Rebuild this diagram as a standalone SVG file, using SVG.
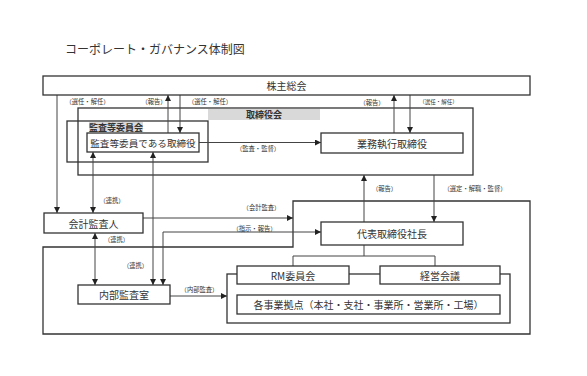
<svg xmlns="http://www.w3.org/2000/svg" width="587" height="376" viewBox="0 0 587 376">
<style>
text{font-family:"Noto Sans CJK JP","Noto Sans",sans-serif;fill:#333;text-anchor:middle;dominant-baseline:central}
.box{fill:#fff;stroke:#333;stroke-width:1.3}
.frame{fill:none;stroke:#333;stroke-width:1.3}
.t{font-size:10px}
.s{font-size:6.3px}
.b{font-size:9px;font-weight:bold}
.gray{fill:#d9d9d9}
.ln{fill:none;stroke:#444;stroke-width:1}
.a{marker-end:url(#ah)}
.aa{marker-end:url(#ah);marker-start:url(#ah)}
</style>
<defs>
<marker id="ah" markerUnits="userSpaceOnUse" markerWidth="7" markerHeight="6" refX="6" refY="3" orient="auto-start-reverse"><path d="M0,0 L6,3 L0,6 Z" fill="#222"/></marker>
</defs>
<rect width="587" height="376" fill="#fff"/>
<text x="155" y="48" style="font-size:12px">コーポレート・ガバナンス体制図</text>

<g id="exec-area"><path class="frame" d="M293,201 H530 V334 H43 V247 H293 Z"/></g>
<g id="board"><rect class="frame" x="78" y="108" width="395" height="67"/><rect class="gray" x="208" y="109" width="112" height="11"/><text class="b" x="264" y="114.5">取締役会</text></g>
<g id="audit-committee"><rect class="frame" x="67" y="121" width="141" height="41"/><rect class="gray" x="89" y="122" width="54" height="10"/><text class="b" x="116" y="127">監査等委員会</text></g>
<g id="rm-group"><rect class="frame" x="227" y="274" width="283" height="49"/></g>

<g id="connectors">
<path class="ln a" d="M57,95 V213"/>
<path class="ln a" d="M168,133 V95"/>
<path class="ln a" d="M180,95 V133"/>
<path class="ln a" d="M394,133 V95"/>
<path class="ln a" d="M410,95 V133"/>
<path class="ln a" d="M199,142.5 H321"/>
<path class="ln a" d="M364,222 V175"/>
<path class="ln a" d="M434,175 V222"/>
<path class="ln aa" d="M93,152 V213"/>
<path class="ln aa" d="M153,152 V285"/>
<path class="ln a" d="M143,218 H293"/>
<path class="ln aa" d="M163,285 V232 H321"/>
<path class="ln aa" d="M95,233 V285"/>
<path class="ln a" d="M170,296 H227"/>
<path class="ln" d="M364,245 V256 M293,266 V256 H435 V266"/>
<text class="s" x="87.5" y="101">（選任・解任）</text>
<text class="s" x="154" y="101">（報告）</text>
<text class="s" x="210" y="101">（選任・解任）</text>
<text class="s" x="372" y="102">（報告）</text>
<text class="s" x="438.5" y="102" style="font-size:5.5px">（選任・解任）</text>
<text class="s" x="258" y="148">（監査・監督）</text>
<text class="s" x="384.5" y="188">（報告）</text>
<text class="s" x="475" y="188">（選定・解職・監督）</text>
<text class="s" x="112" y="200">（連携）</text>
<text class="s" x="135.5" y="265">（連携）</text>
<text class="s" x="261.5" y="207">（会計監査）</text>
<text class="s" x="254.5" y="228">（指示・報告）</text>
<text class="s" x="116.5" y="239">（連携）</text>
<text class="s" x="199.5" y="289">（内部監査）</text>
</g>

<g id="shareholders"><rect class="box" x="43" y="76" width="487" height="19"/><text class="t" x="286.5" y="85.5">株主総会</text></g>
<g id="audit-directors"><rect class="box" x="87" y="133" width="112" height="19"/><text class="t" x="143" y="142.5" style="font-size:9.6px">監査等委員である取締役</text></g>
<g id="exec-directors"><rect class="box" x="321" y="133" width="142" height="20"/><text class="t" x="392" y="143">業務執行取締役</text></g>
<g id="auditor"><rect class="box" x="44" y="213" width="99" height="20"/><text class="t" x="93.5" y="223">会計監査人</text></g>
<g id="president"><rect class="box" x="321" y="222" width="142" height="23"/><text class="t" x="392" y="233.5">代表取締役社長</text></g>
<g id="rm-committee"><rect class="box" x="237" y="266" width="112" height="18"/><text class="t" x="293" y="275">RM委員会</text></g>
<g id="management-meeting"><rect class="box" x="380" y="266" width="120" height="18"/><text class="t" x="440" y="275">経営会議</text></g>
<g id="sites"><rect class="box" x="237" y="295" width="263" height="19"/><text class="t" x="368.5" y="304.5">各事業拠点（本社・支社・事業所・営業所・工場）</text></g>
<g id="internal-audit"><rect class="box" x="78" y="285" width="92" height="19"/><text class="t" x="124" y="294.5">内部監査室</text></g>
</svg>
